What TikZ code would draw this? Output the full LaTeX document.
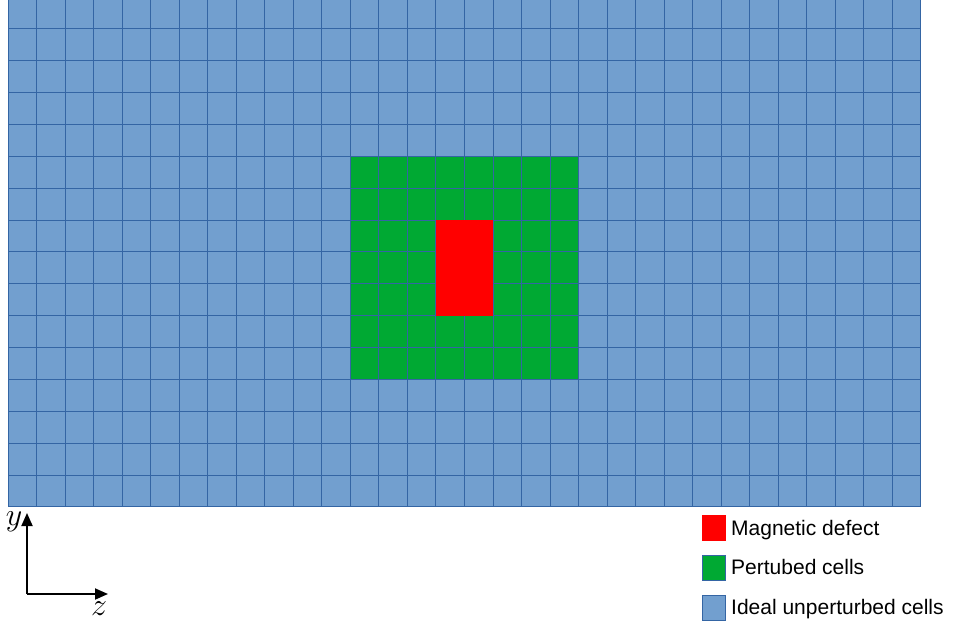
\documentclass[tikz,border=0pt]{standalone}
\usepackage{fix-cm}
\usepackage{fontspec}
\setmainfont{Liberation Sans}
\usetikzlibrary{arrows.meta}

\definecolor{cellblue}{HTML}{729FCF}
\definecolor{lineblue}{HTML}{3465A4}
\definecolor{pertgreen}{HTML}{00A933}
\definecolor{defectred}{HTML}{FF0000}

\begin{document}
\begin{tikzpicture}[x=1pt, y=-1pt, >={Triangle[length=13pt,width=11pt]},
	legendbox/.style={minimum width=23pt, minimum height=25pt, inner sep=0pt, draw=lineblue, line width=0.8pt},
	legendtext/.style={anchor=base west, inner sep=0pt, font=\fontsize{21}{25}\selectfont},
	axislabel/.style={inner sep=0pt, font=\fontsize{32}{32}\selectfont}]
	\useasboundingbox (0,0) rectangle (953,628);
	% cell grid, 32 x 16 cells
	\begin{scope}
		\clip (0,0) rectangle (953,628);
		\begin{scope}[shift={(8pt,3pt)}, x=28.53pt, y=-31.87pt]
			\fill[cellblue] (0,0) rectangle (32,16);
			\fill[pertgreen] (12,5) rectangle (20,12);
			\foreach \i in {0,...,32} \draw[lineblue, line width=1pt] (\i,0) -- (\i,16);
			\foreach \j in {0,...,16} \draw[lineblue, line width=1pt] (0,\j) -- (32,\j);
			\fill[defectred] (15,7) rectangle (17,10);
		\end{scope}
	\end{scope}
	% axes
	\coordinate (origin) at (27,594);
	\coordinate (ytip) at (27,513);
	\coordinate (ztip) at (108,594);
	\draw[->, line width=1.8pt] (origin) -- (ytip);
	\draw[->, line width=1.8pt] (origin) -- (ztip);
	\node[axislabel] (ylabel) at (14,522) {$y$};
	\node[axislabel] (zlabel) at (99,609) {$z$};
	% legend
	\node[legendbox, fill=defectred, draw=defectred] (defectbox) at (713.5,527.5) {};
	\node[legendtext] (defecttext) at (731,535) {Magnetic defect};
	\node[legendbox, fill=pertgreen] (pertbox) at (713.5,567.5) {};
	\node[legendtext] (perttext) at (731,574.5) {Pertubed cells};
	\node[legendbox, fill=cellblue] (idealbox) at (713.5,608) {};
	\node[legendtext] (idealtext) at (731,614) {Ideal unperturbed cells};
\end{tikzpicture}
\end{document}
